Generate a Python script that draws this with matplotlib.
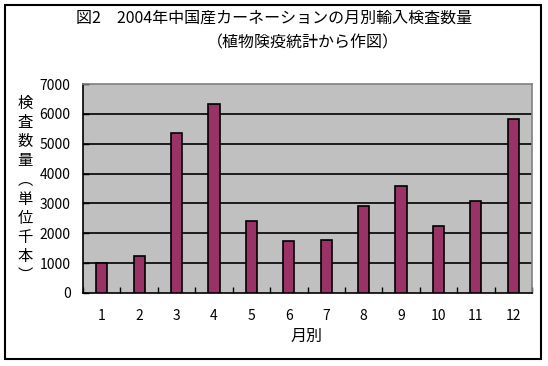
import matplotlib.pyplot as plt
import numpy as np
from matplotlib.patches import Rectangle

plt.rcParams['font.family'] = ['Noto Sans CJK JP', 'DejaVu Sans']

# monthly import inspection counts (thousand stems)
months = ['1', '2', '3', '4', '5', '6', '7', '8', '9', '10', '11', '12']
counts = [990, 1230, 5350, 6320, 2400, 1730, 1760, 2900, 3600, 2230, 3070, 5820]
yticks = [0, 1000, 2000, 3000, 4000, 5000, 6000, 7000]

W, H = 548, 366
fig = plt.figure(figsize=(W/100, H/100), dpi=100)

# plot area in pixels: left 83, right 532, top 84, bottom 293
ax = fig.add_axes([83/W, 1-293/H, (532-83)/W, (293-84)/H])
ax.set_facecolor('#c0c0c0')

x = np.arange(len(months))
ax.bar(x, counts, width=0.3, color='#993366', edgecolor='black', linewidth=1.2, zorder=3)

ax.set_xlim(-0.5, len(months)-0.5)
ax.set_ylim(0, 7000)
ax.set_yticks(yticks)
ax.set_yticklabels([str(v) for v in yticks], fontsize=10)
for v in yticks[1:-1]:
    ax.axhline(v, color='black', linewidth=1.2, zorder=1)

# category ticks between bars
ax.set_xticks(np.arange(-0.5, len(months)), minor=False)
ax.set_xticklabels([])
ax.tick_params(axis='x', direction='in', length=4, width=1, color='black')
ax.tick_params(axis='y', length=4, width=1, direction='in', pad=9)
for i, m in enumerate(months):
    ax.text(i, -0.075, m, transform=ax.get_xaxis_transform(), ha='center', va='top', fontsize=10)

ax.spines['top'].set_color('#808080')
ax.spines['right'].set_color('#808080')
ax.spines['left'].set_color('black')
ax.spines['bottom'].set_color('black')
for s in ax.spines.values():
    s.set_linewidth(1.2)

# titles
fig.text(274/W, 1-18/H, '図2　2004年中国産カーネーションの月別輸入検査数量',
         ha='center', va='center', fontsize=11.5)
fig.text(303/W, 1-43/H, '（植物険疫統計から作図）', ha='center', va='center', fontsize=11.5)
fig.text(307/W, 1-336/H, '月別', ha='center', va='center', fontsize=11.5)

# vertical y label, one char per line
ylab = ['検', '査', '数', '量', '︵', '単', '位', '千', '本', '︶']
for i, c in enumerate(ylab):
    fig.text(25/W, 1-(103+i*19.2)/H, c, ha='center', va='center', fontsize=11)

# outer frame
fig.add_artist(Rectangle((5/W, 1-359/H), 536/W, 354/H, transform=fig.transFigure,
                         fill=False, edgecolor='black', linewidth=1.5))

fig.savefig('out.png', dpi=100)
